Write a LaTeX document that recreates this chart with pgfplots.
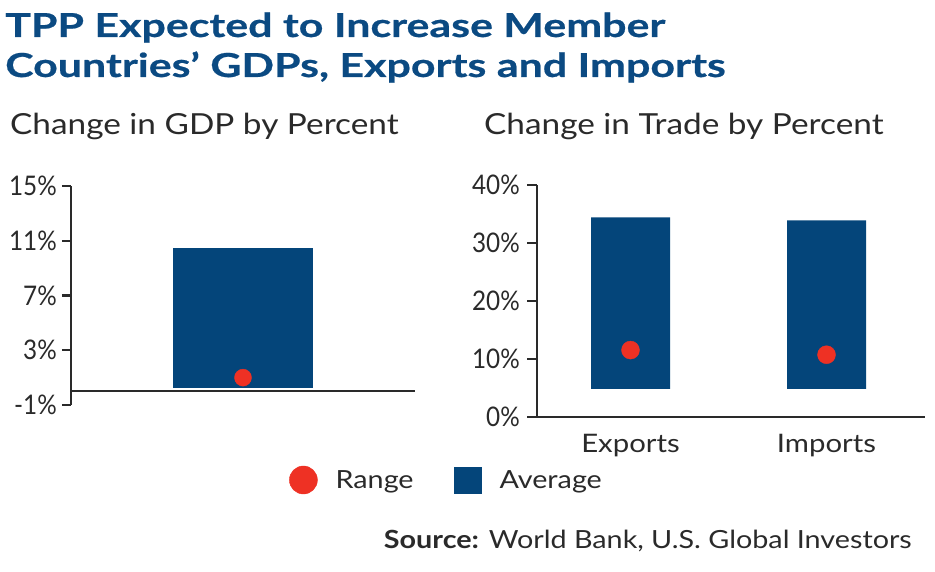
\documentclass[border=0pt]{standalone}
\usepackage{pgfplots}
\pgfplotsset{compat=1.18}
\usepackage{fontspec}
\setmainfont{Lato}[FakeStretch=1.15]
\newfontfamily\tickfont{Lato}[FakeStretch=0.9]
\newfontfamily\titlefont{Lato}[FakeStretch=1.3, FakeBold=0.6]
\definecolor{navy}{HTML}{04457A}
\definecolor{dotred}{HTML}{EE3124}
\definecolor{txt}{HTML}{2A2A2A}
\definecolor{ttl}{HTML}{0B4A82}
\begin{document}
\begin{tikzpicture}[x=1pt,y=1pt]
\useasboundingbox (0,0) rectangle (935,571);
% titles
\node[anchor=base west, inner sep=0, text=ttl, font=\titlefont\fontsize{33}{38}\selectfont\bfseries] at (5,534) {TPP Expected to Increase Member};
\node[anchor=base west, inner sep=0, text=ttl, font=\titlefont\fontsize{33}{38}\selectfont\bfseries] at (5,494) {Countries’ GDPs, Exports and Imports};
\node[anchor=base west, inner sep=0, text=txt, font=\fontsize{29}{34}\selectfont] at (10,436) {Change in GDP by Percent};
\node[anchor=base west, inner sep=0, text=txt, font=\fontsize{29}{34}\selectfont] at (484,436) {Change in Trade by Percent};
\node[anchor=base east, inner sep=0, text=txt, font=\fontsize{25}{30}\selectfont] at (912,23) {\textbf{Source:} World Bank, U.S. Global Investors};

% left panel
\begin{axis}[
  at={(71pt,166pt)}, anchor=south west,
  scale only axis, width=344pt, height=219pt,
  xmin=0, xmax=344, ymin=-1, ymax=15,
  axis y line=left, axis x line=middle,
  axis line style={-, line width=2.2pt, color=txt},
  xtick=\empty,
  ytick={-1,3,7,11,15},
  yticklabels={-1\%,3\%,7\%,11\%,15\%},
  tick align=outside,
  major tick length=9pt,
  ytick style={line width=2.2pt, color=txt},
  yticklabel style={font=\tickfont\fontsize{27}{30}\selectfont, text=txt, inner sep=1pt, xshift=-4pt},
  ybar stacked, bar width=140pt,
  clip=false,
]
\addplot[draw=none, fill=none, forget plot] coordinates {(172,0.25)};
\addplot[draw=none, fill=navy, forget plot] coordinates {(172,10.25)};
\end{axis}
\begin{axis}[
  at={(71pt,166pt)}, anchor=south west,
  scale only axis, width=344pt, height=219pt,
  xmin=0, xmax=344, ymin=-1, ymax=15,
  hide axis, clip=false,
]
\addplot[only marks, mark=*, mark size=8.5pt, color=dotred, forget plot] coordinates {(172,1.0)};
\end{axis}

% right panel
\begin{axis}[
  at={(537pt,154.3pt)}, anchor=south west,
  scale only axis, width=388pt, height=231.7pt,
  xmin=0, xmax=388, ymin=0, ymax=40,
  axis y line=left, axis x line=bottom,
  axis line style={-, line width=2.2pt, color=txt},
  xtick={93.5,289.5},
  xticklabels={Exports,Imports},
  ytick={0,10,20,30,40},
  yticklabels={0\%,10\%,20\%,30\%,40\%},
  tick align=outside,
  major tick length=10pt,
  xtick style={draw=none},
  ytick style={line width=2.2pt, color=txt},
  yticklabel style={font=\tickfont\fontsize{27}{30}\selectfont, text=txt, inner sep=1pt, xshift=-6pt},
  xticklabel style={font=\fontsize{25.5}{30}\selectfont, text=txt, inner sep=0pt, yshift=-7pt},
  ybar stacked, bar width=79pt,
  clip=false,
  legend style={at={(-0.6469,-0.2732)}, anchor=west, draw=none, fill=none,
    font=\fontsize{25}{30}\selectfont, text=txt, legend columns=2,
    /tikz/every even column/.append style={column sep=38pt}},
  legend cell align=left,
]
\addlegendimage{legend image code/.code={\fill[dotred] (0pt,0pt) circle (14pt); \path (-14pt,0pt) (30pt,0pt);}}
\addlegendentry{Range}
\addlegendimage{legend image code/.code={\fill[navy] (-13.5pt,-13pt) rectangle (13.5pt,13pt); \path (-13.5pt,0pt) (30pt,0pt);}}
\addlegendentry{Average}
\addplot[draw=none, fill=none, forget plot] coordinates {(93.5,4.8) (289.5,4.8)};
\addplot[draw=none, fill=navy, forget plot] coordinates {(93.5,29.6) (289.5,29.1)};
\end{axis}
\begin{axis}[
  at={(537pt,154.3pt)}, anchor=south west,
  scale only axis, width=388pt, height=231.7pt,
  xmin=0, xmax=388, ymin=0, ymax=40,
  hide axis, clip=false,
]
\addplot[only marks, mark=*, mark size=9pt, color=dotred] coordinates {(93.5,11.5) (289.5,10.7)};
\end{axis}
\end{tikzpicture}
\end{document}
